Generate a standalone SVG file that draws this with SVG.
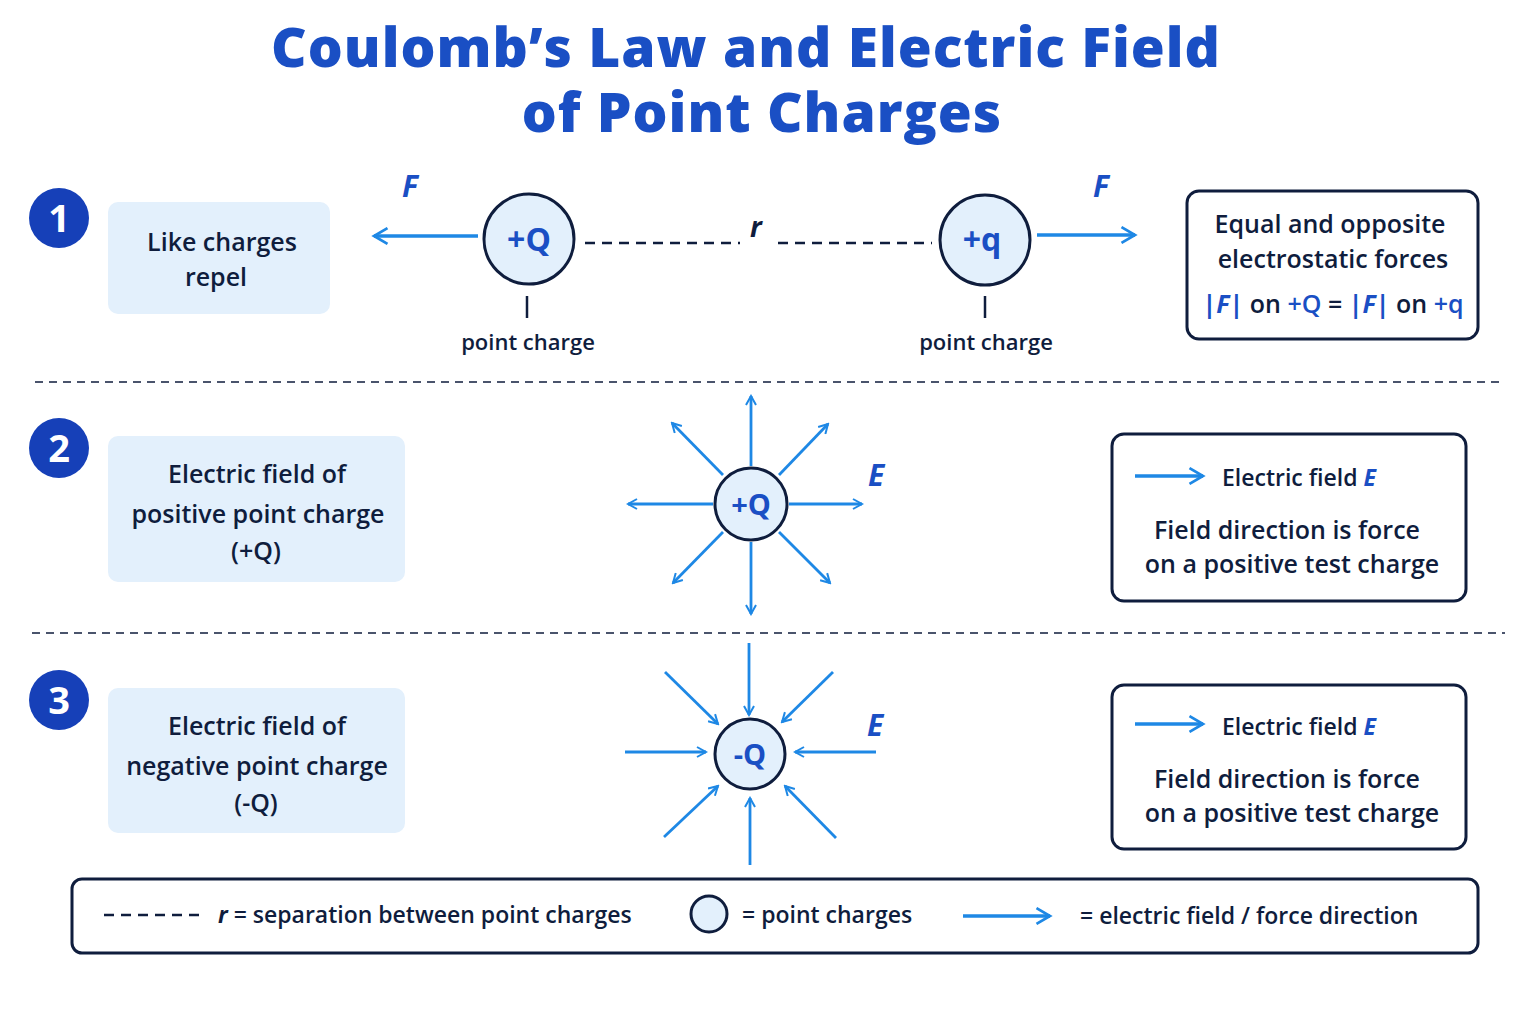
<svg xmlns="http://www.w3.org/2000/svg" width="1536" height="1024" viewBox="0 0 1536 1024">
<defs>
<marker id="ah" viewBox="0 0 12 12" refX="10" refY="6" markerWidth="12" markerHeight="12" markerUnits="userSpaceOnUse" orient="auto"><path d="M1,1 L10,6 L1,11" fill="none" stroke="#1e88e5" stroke-width="2"/></marker>
<marker id="ahb" viewBox="0 0 16 16" refX="13" refY="8" markerWidth="18" markerHeight="18" markerUnits="userSpaceOnUse" orient="auto"><path d="M1,1 L13,8 L1,15" fill="none" stroke="#1e88e5" stroke-width="2.4"/></marker>
</defs>
<style>
text{font-family:"Open Sans","Liberation Sans",sans-serif;fill:#0f1d3d;font-weight:600}
.title{font-family:"Open Sans","Liberation Sans",sans-serif;font-weight:800;font-size:55px;fill:#1a4fc4;text-anchor:middle;letter-spacing:1px}
.t{font-size:25px;text-anchor:middle}
.s{font-size:23px}
.num{fill:#1640b8}
.numt{fill:#fff;font-size:38px;font-weight:700;text-anchor:middle}
.lbox{fill:#e3f0fc}
.box{fill:#fff;stroke:#0f1d3d;stroke-width:3}
.chg{fill:#e3f0fc;stroke:#0f1d3d;stroke-width:3}
.ct{font-size:32px;fill:#1a4fc4;font-weight:700;text-anchor:middle}
.ar{stroke:#1e88e5;stroke-width:2.8;fill:none;marker-end:url(#ah)}
.arb{stroke:#1e88e5;stroke-width:3.5;fill:none;marker-end:url(#ahb)}
.dash{stroke:#0f1d3d;stroke-width:2.5;stroke-dasharray:10 7;fill:none}
.div{stroke:#0f1d3d;stroke-width:1.5;stroke-dasharray:8 6}
.it{font-style:italic;fill:#1a4fc4;font-weight:700}
</style>
<text class="title" x="746" y="67">Coulomb’s Law and Electric Field</text>
<text class="title" x="762" y="132">of Point Charges</text>

<g id="sec1">
<circle class="num" cx="59" cy="218" r="30"/><text class="numt" x="59" y="232">1</text>
<rect class="lbox" x="108" y="202" width="222" height="112" rx="10"/>
<text class="t" x="222" y="251">Like charges</text><text class="t" x="216" y="286">repel</text>
</g>
<g id="chargeQ1"><circle class="chg" cx="529" cy="239" r="45"/><text class="ct" x="529" y="251">+Q</text>
<line x1="527" y1="296" x2="527" y2="318" stroke="#0f1d3d" stroke-width="2.5"/><text class="t" x="528" y="350" style="font-size:22px">point charge</text></g>
<g id="chargeq1"><circle class="chg" cx="985" cy="240" r="45"/><text class="ct" x="982" y="251">+q</text>
<line x1="985" y1="296" x2="985" y2="318" stroke="#0f1d3d" stroke-width="2.5"/><text class="t" x="986" y="350" style="font-size:22px">point charge</text></g>
<g id="box1"><rect class="box" x="1187" y="191" width="291" height="148" rx="12"/>
<text class="t" x="1330" y="233">Equal and opposite</text><text class="t" x="1333" y="268">electrostatic forces</text>
<text class="t" x="1333" y="313"><tspan class="it">|F|</tspan> on <tspan fill="#1a4fc4">+Q</tspan> = <tspan class="it">|F|</tspan> on <tspan fill="#1a4fc4">+q</tspan></text></g>

<line class="div" x1="35" y1="382" x2="1505" y2="382"/>
<line class="div" x1="32" y1="633" x2="1505" y2="633"/>

<g id="sec2">
<circle class="num" cx="59" cy="448" r="30"/><text class="numt" x="59" y="462">2</text>
<rect class="lbox" x="108" y="436" width="297" height="146" rx="10"/>
<text class="t" x="257" y="483">Electric field of</text><text class="t" x="258" y="523">positive point charge</text><text class="t" x="256" y="560">(+Q)</text>
</g>
<g id="chargeQ2"><circle class="chg" cx="751" cy="504" r="36"/><text class="ct" x="751" y="515" style="font-size:29px">+Q</text></g>
<text class="it" x="868" y="486" font-size="30">E</text>
<g id="box2"><rect class="box" x="1112" y="434" width="354" height="167" rx="12"/>
<text class="s" x="1222" y="486">Electric field <tspan class="it">E</tspan></text>
<text class="t" x="1287" y="539">Field direction is force</text><text class="t" x="1292" y="573">on a positive test charge</text></g>

<g id="sec3">
<circle class="num" cx="59" cy="700" r="30"/><text class="numt" x="59" y="714">3</text>
<rect class="lbox" x="108" y="688" width="297" height="145" rx="10"/>
<text class="t" x="257" y="735">Electric field of</text><text class="t" x="257" y="775">negative point charge</text><text class="t" x="256" y="812">(-Q)</text>
</g>
<g id="chargeQ3"><circle class="chg" cx="750" cy="754" r="35"/><text class="ct" x="750" y="765" style="font-size:29px">-Q</text></g>
<text class="it" x="867" y="736" font-size="30">E</text>
<g id="box3"><rect class="box" x="1112" y="685" width="354" height="164" rx="12"/>
<text class="s" x="1222" y="735">Electric field <tspan class="it">E</tspan></text>
<text class="t" x="1287" y="788">Field direction is force</text><text class="t" x="1292" y="822">on a positive test charge</text></g>

<g id="legend"><rect class="box" x="72" y="879" width="1406" height="74" rx="10"/>
<text class="s" x="218" y="923"><tspan class="it" style="fill:#0f1d3d">r</tspan> = separation between point charges</text>
<circle class="chg" cx="709" cy="914" r="18" stroke-width="2.5"/>
<text class="s" x="742" y="923">= point charges</text>
<text class="s" x="1080" y="924">= electric field / force direction</text></g>

<g id="connectors">
<line class="arb" x1="478" y1="236" x2="374" y2="236"/>
<line class="arb" x1="1037" y1="235" x2="1135" y2="235"/>
<line class="dash" x1="585" y1="243" x2="740" y2="243"/>
<line class="dash" x1="778" y1="243" x2="932" y2="243"/>
<line class="ar" x1="751" y1="466" x2="751" y2="396"/>
<line class="ar" x1="713" y1="504" x2="628" y2="504"/>
<line class="ar" x1="789" y1="504" x2="862" y2="504"/>
<line class="ar" x1="751" y1="542" x2="751" y2="614"/>
<line class="ar" x1="723" y1="475" x2="672" y2="423"/>
<line class="ar" x1="779" y1="475" x2="828" y2="424"/>
<line class="ar" x1="723" y1="532" x2="673" y2="583"/>
<line class="ar" x1="779" y1="532" x2="830" y2="583"/>
<line class="ar" x1="749" y1="643" x2="749" y2="715"/>
<line class="ar" x1="625" y1="752" x2="706" y2="752"/>
<line class="ar" x1="876" y1="752" x2="795" y2="752"/>
<line class="ar" x1="750" y1="865" x2="750" y2="798"/>
<line class="ar" x1="665" y1="672" x2="718" y2="724"/>
<line class="ar" x1="833" y1="672" x2="782" y2="722"/>
<line class="ar" x1="664" y1="837" x2="718" y2="786"/>
<line class="ar" x1="836" y1="838" x2="785" y2="786"/>
<line class="arb" x1="1135" y1="476" x2="1203" y2="476"/>
<line class="arb" x1="1135" y1="724" x2="1203" y2="724"/>
<line class="arb" x1="963" y1="916" x2="1050" y2="916"/>
<line class="dash" x1="104" y1="915" x2="204" y2="915"/>
</g>
<text class="it" x="402" y="197" font-size="30">F</text>
<text class="it" x="1093" y="197" font-size="30">F</text>
<text class="it" x="750" y="237" font-size="28" style="fill:#0f1d3d">r</text>
</svg>
